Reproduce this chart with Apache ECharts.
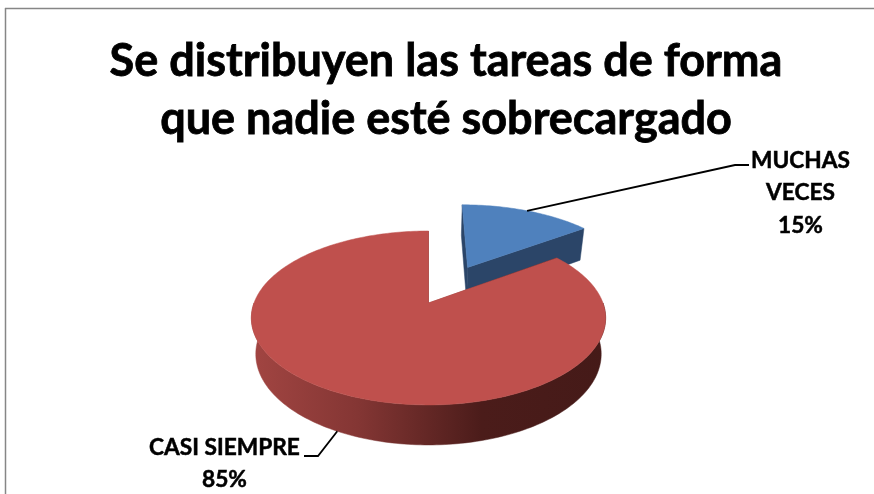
<!DOCTYPE html>
<html>
<head>
<meta charset="utf-8">
<title>Se distribuyen las tareas</title>
<style>
  html, body { margin: 0; padding: 0; background: #fff; }
  #chart { width: 874px; height: 494px; }
</style>
<script src="https://cdn.jsdelivr.net/npm/echarts@6/dist/echarts.min.js"></script>
</head>
<body>
<div id="chart"></div>
<script>
const titleText = 'Se distribuyen las tareas de forma\nque nadie esté sobrecargado'
const categories = ['MUCHAS VECES', 'CASI SIEMPRE']
const values = [15, 85]

// proyección del pastel 3D (no hay pie 3D en echarts sin gl)
const view = { cx: 428.5, cy: 303, rx: 174.5, ry: 84.4, persp: 0.172, depth: 35.4, shrink: 0.975 }
const explode = [0.51, 0]
const nudgeX = [0.01, 0]
const topColors = ['#4f81bd', '#bf504d']
const sideColors = [
  '#2b4568',
  {
    type: 'linear', x: 0, y: 0, x2: 1, y2: 0,
    colorStops: [
      { offset: 0, color: '#a24542' },
      { offset: 0.3, color: '#843634' },
      { offset: 0.65, color: '#4b1c1a' },
      { offset: 1, color: '#451a18' }
    ]
  }
]
const labelLayout = [
  { text: 'MUCHAS\nVECES\n15%', x: 800.5, y: 193, elbow: [735, 165], end: [749, 165], onWall: 0 },
  { text: 'CASI SIEMPRE\n85%', x: 224.5, y: 463.5, elbow: [318, 456], end: [304, 456], onWall: 1 }
]

const total = values.reduce((a, b) => a + b, 0)

// z = 0 cara superior, z = 1 base
const project = (X, Y, z) => {
  const w = 1 + view.persp * Y
  const s = z ? view.shrink : 1
  return [
    view.cx + view.rx * s * X / w,
    view.cy - view.ry * Y / w + z * view.depth / Math.pow(w, 0.65)
  ]
}

const renderItem = (params, api) => {
  const i = params.dataIndex
  let before = 0
  for (let k = 0; k < i; k++) before += values[k]
  const start = before / total * Math.PI * 2
  const end = (before + api.value(0)) / total * Math.PI * 2
  const mid = (start + end) / 2
  const ox = explode[i] * Math.sin(mid) + nudgeX[i]
  const oy = explode[i] * Math.cos(mid)
  const rim = (t, z) => project(ox + Math.sin(t), oy + Math.cos(t), z)

  const arc = (a, b, z) => {
    const pts = []
    const n = Math.max(2, Math.ceil((b - a) / 0.02))
    for (let k = 0; k <= n; k++) pts.push(rim(a + (b - a) * k / n, z))
    return pts
  }
  const poly = (points, fill) => ({
    type: 'polygon',
    shape: { points },
    style: { fill, stroke: fill, lineWidth: 0.5 }
  })

  const children = []
  const side = sideColors[i]
  // caras de corte
  children.push(poly([project(ox, oy, 0), rim(start, 0), rim(start, 1), project(ox, oy, 1)], side))
  children.push(poly([project(ox, oy, 0), rim(end, 0), rim(end, 1), project(ox, oy, 1)], side))
  // pared exterior, solo la parte delantera
  const a = Math.max(start, Math.PI / 2)
  const b = Math.min(end, Math.PI * 1.5)
  if (b > a) {
    children.push(poly(arc(a, b, 0).concat(arc(a, b, 1).reverse()), side))
  }
  // cara superior
  children.push(poly([project(ox, oy, 0)].concat(arc(start, end, 0)), topColors[i]))

  // etiqueta y su línea guía
  const lab = labelLayout[i]
  children.push({
    type: 'polyline',
    shape: { points: [rim(mid, lab.onWall), lab.elbow, lab.end] },
    style: { fill: 'none', stroke: '#000', lineWidth: 1.8 }
  })
  children.push({
    type: 'text',
    style: {
      text: lab.text,
      x: lab.x,
      y: lab.y,
      align: 'center',
      verticalAlign: 'middle',
      font: 'bold 22.7px Lato',
      lineHeight: 32.5,
      fill: '#000',
      stroke: '#000',
      lineWidth: 0.5
    }
  })
  return { type: 'group', children }
}

const chart = echarts.init(document.getElementById('chart'), null, { renderer: 'canvas' })
chart.setOption({
  animation: false,
  backgroundColor: '#fff',
  title: {
    text: titleText,
    left: 441,
    top: 27,
    textAlign: 'center',
    textStyle: {
      fontFamily: 'Lato',
      fontWeight: 'bold',
      fontSize: 45,
      lineHeight: 58,
      color: '#000',
      textBorderColor: '#000',
      textBorderWidth: 0.8
    }
  },
  graphic: [
    { type: 'line', shape: { x1: 5.5, y1: 8, x2: 5.5, y2: 494 }, style: { stroke: '#868686', lineWidth: 1.5 } },
    { type: 'line', shape: { x1: 5, y1: 8.5, x2: 874, y2: 8.5 }, style: { stroke: '#868686', lineWidth: 1.5 } }
  ],
  series: [{
    type: 'custom',
    coordinateSystem: 'none',
    silent: true,
    renderItem,
    data: categories.map((name, i) => ({ name, value: values[i] }))
  }]
})
</script>
</body>
</html>
